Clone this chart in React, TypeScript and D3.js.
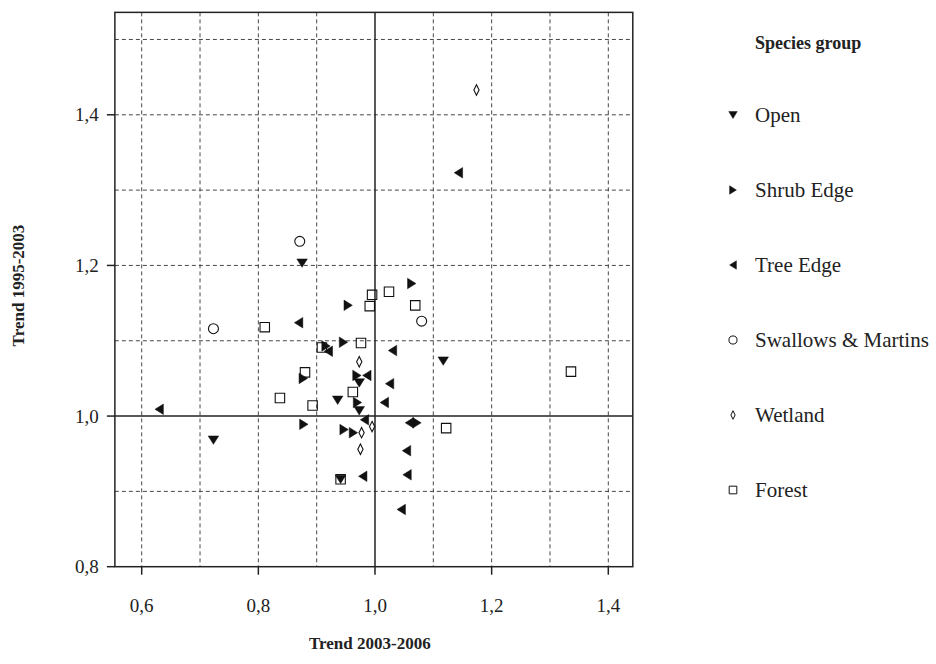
import React from 'react';
import * as d3 from 'd3';

// trend values: [trend 2003-2006, trend 1995-2003]
const openPts: [number, number][] = [
  [0.875, 1.203], [1.117, 1.073], [0.973, 1.044], [0.936, 1.021],
  [0.973, 1.007], [0.723, 0.968], [0.941, 0.916],
];
const shrubPts: [number, number][] = [
  [1.063, 1.176], [0.954, 1.147], [0.946, 1.098], [0.916, 1.093],
  [0.877, 1.05], [0.969, 1.054], [0.97, 1.018], [0.878, 0.989],
  [0.947, 0.982], [0.963, 0.978], [1.072, 0.991],
];
const treePts: [number, number][] = [
  [1.143, 1.323], [0.869, 1.124], [0.92, 1.086], [1.03, 1.087],
  [0.986, 1.054], [1.025, 1.043], [1.016, 1.018], [0.982, 0.995],
  [0.63, 1.009], [1.059, 0.991], [1.054, 0.954], [0.979, 0.92],
  [1.055, 0.922], [1.045, 0.876],
];
const swallowPts: [number, number][] = [
  [0.871, 1.232], [1.08, 1.126], [0.723, 1.116],
];
const wetlandPts: [number, number][] = [
  [1.174, 1.433], [0.973, 1.072], [0.995, 0.986], [0.977, 0.978], [0.975, 0.956],
];
const forestPts: [number, number][] = [
  [1.024, 1.165], [0.995, 1.161], [0.991, 1.146], [1.069, 1.147],
  [0.811, 1.118], [0.976, 1.097], [0.909, 1.091], [0.88, 1.058],
  [0.962, 1.032], [0.837, 1.024], [0.893, 1.014], [1.122, 0.984],
  [1.336, 1.059], [0.941, 0.916],
];

const xTicks = [0.6, 0.8, 1.0, 1.2, 1.4];
const yTicks = [0.8, 1.0, 1.2, 1.4];
const xGrid = [0.6, 0.7, 0.8, 0.9, 1.1, 1.2, 1.3, 1.4];
const yGrid = [0.9, 1.1, 1.2, 1.3, 1.4, 1.5];
const groups = ['Open', 'Shrub Edge', 'Tree Edge', 'Swallows & Martins', 'Wetland', 'Forest'];

const FONT = '"Liberation Serif", "Times New Roman", serif';
const fmt = (v: number) => v.toFixed(1).replace('.', ',');

// marker path centred on 0,0
function shape(kind: string, s: number) {
  const h = s / 2;
  switch (kind) {
    case 'Open': return `M${-h},${-h * 0.8}L${h},${-h * 0.8}L0,${h * 0.8}Z`;
    case 'Shrub Edge': return `M${-h * 0.8},${-h}L${h * 0.8},0L${-h * 0.8},${h}Z`;
    case 'Tree Edge': return `M${h * 0.8},${-h}L${-h * 0.8},0L${h * 0.8},${h}Z`;
    case 'Wetland': return `M0,${-h}L${h * 0.5},0L0,${h}L${-h * 0.5},0Z`;
    case 'Forest': return `M${-h * 0.9},${-h * 0.9}H${h * 0.9}V${h * 0.9}H${-h * 0.9}Z`;
    default: return `M${h * 0.95},0A${h * 0.95},${h * 0.95} 0 1 1 ${-h * 0.95},0A${h * 0.95},${h * 0.95} 0 1 1 ${h * 0.95},0Z`;
  }
}
const filled = (k: string) => k === 'Open' || k === 'Shrub Edge' || k === 'Tree Edge';

export default function App() {
  const x = d3.scaleLinear().domain([0.6, 1.4]).range([141.7, 608.3]);
  const y = d3.scaleLinear().domain([0.8, 1.4]).range([566.7, 114.8]);
  const x0 = x(0.554), x1 = x(1.442), y0 = y(0.8), y1 = y(1.536);

  const series: [string, [number, number][]][] = [
    ['Forest', forestPts], ['Swallows & Martins', swallowPts], ['Wetland', wetlandPts],
    ['Open', openPts], ['Shrub Edge', shrubPts], ['Tree Edge', treePts],
  ];

  return (
    <svg width={936} height={664} style={{ position: 'absolute', left: 0, top: 0, background: '#fff' }}>
      <rect width={936} height={664} fill="#fff" />
      {xGrid.map(v => (
        <line key={'gx' + v} x1={x(v)} x2={x(v)} y1={y1} y2={y0} stroke="#333" strokeWidth={0.9} strokeDasharray="4,3" />
      ))}
      {yGrid.map(v => (
        <line key={'gy' + v} x1={x0} x2={x1} y1={y(v)} y2={y(v)} stroke="#333" strokeWidth={0.9} strokeDasharray="4,3" />
      ))}
      <line x1={x(1)} x2={x(1)} y1={y1} y2={y0} stroke="#222" strokeWidth={1.5} />
      <line x1={x0} x2={x1} y1={y(1)} y2={y(1)} stroke="#222" strokeWidth={1.5} />
      <rect x={x0} y={y1} width={x1 - x0} height={y0 - y1} fill="none" stroke="#222" strokeWidth={1.5} />

      {xTicks.map(v => (
        <g key={'xt' + v}>
          <line x1={x(v)} x2={x(v)} y1={y0} y2={y0 + 8} stroke="#222" strokeWidth={1.5} />
          <text x={x(v)} y={y0 + 45} textAnchor="middle" fontFamily={FONT} fontSize={19} fill="#222">{fmt(v)}</text>
        </g>
      ))}
      {yTicks.map(v => (
        <g key={'yt' + v}>
          <line x1={x0 - 8} x2={x0} y1={y(v)} y2={y(v)} stroke="#222" strokeWidth={1.5} />
          <text x={x0 - 16} y={y(v) + 6.5} textAnchor="end" fontFamily={FONT} fontSize={19} fill="#222">{fmt(v)}</text>
        </g>
      ))}

      <text x={(x0 + x1) / 2 - 4} y={649} textAnchor="middle" fontFamily={FONT} fontSize={17} fontWeight="bold" fill="#222">Trend 2003-2006</text>
      <text transform={`translate(24,${(y0 + y1) / 2 - 4}) rotate(-90)`} textAnchor="middle" fontFamily={FONT} fontSize={17} fontWeight="bold" fill="#222">Trend 1995-2003</text>

      {series.map(([k, pts]) => (
        <g key={k}>
          {pts.map((p, i) => (
            <path key={i} d={shape(k, 10.5)} transform={`translate(${x(p[0])},${y(p[1])})`}
              fill={filled(k) ? '#111' : 'none'} stroke="#111" strokeWidth={filled(k) ? 0.5 : 1.1} />
          ))}
        </g>
      ))}

      <text x={755} y={49} fontFamily={FONT} fontSize={18} fontWeight="bold" fill="#222">Species group</text>
      {groups.map((g, i) => (
        <g key={g} transform={`translate(0,${115 + i * 75})`}>
          <path d={shape(g, 8.5)} transform="translate(733,0)" fill={filled(g) ? '#111' : 'none'} stroke="#111" strokeWidth={filled(g) ? 0.5 : 1} />
          <text x={755} y={7} fontFamily={FONT} fontSize={21} fill="#222">{g}</text>
        </g>
      ))}
    </svg>
  );
}
